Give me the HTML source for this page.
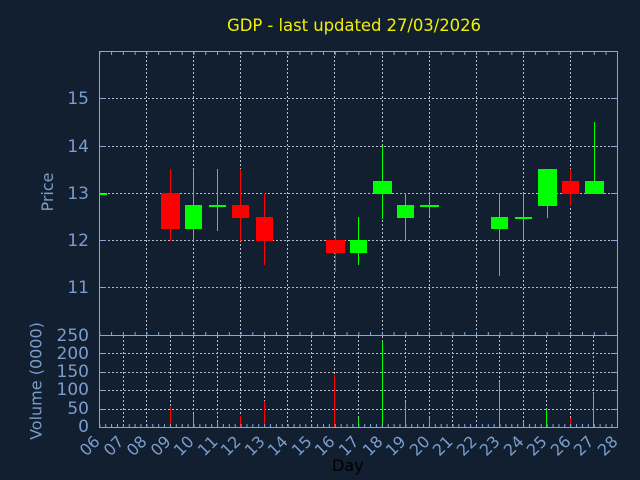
<!DOCTYPE html>
<html>
<head>
<meta charset="utf-8">
<style>
html,body{margin:0;padding:0;background:#111f30;}
svg{display:block;}
text{font-family:"DejaVu Sans","Liberation Sans",sans-serif;}
</style>
</head>
<body>
<svg width="640" height="480" viewBox="0 0 640 480" xmlns="http://www.w3.org/2000/svg">
<rect x="0" y="0" width="640" height="480" fill="#111f30"/>

<!-- title -->
<text x="227" y="31" font-size="16.5" fill="#f0f000" textLength="254" lengthAdjust="spacing">GDP - last updated 27/03/2026</text>

<!-- gridlines -->
<g stroke="#b8bcc4" stroke-width="1" stroke-dasharray="2 2" shape-rendering="crispEdges" fill="none">
  <path d="M100 98.5H617M100 146.5H617M100 193.5H617M100 240.5H617M100 287.5H617"/>
  <path d="M146.5 52V335M193.5 52V335M240.5 52V335M287.5 52V335M334.5 52V335M382.5 52V335M429.5 52V335M476.5 52V335M523.5 52V335M570.5 52V335"/>
  <path d="M100 353.5H617M100 372.5H617M100 390.5H617M100 409.5H617"/>
  <path d="M123.5 336V427M146.5 336V427M170.5 336V427M193.5 336V427M217.5 336V427M240.5 336V427M264.5 336V427M287.5 336V427M311.5 336V427M334.5 336V427M358.5 336V427M382.5 336V427M405.5 336V427M429.5 336V427M452.5 336V427M476.5 336V427M499.5 336V427M523.5 336V427M546.5 336V427M570.5 336V427M593.5 336V427"/>
</g>

<!-- candles -->
<g shape-rendering="crispEdges">
  <rect x="99" y="193" width="8" height="2" fill="#00ff00"/>
  <rect x="170" y="169" width="1" height="72" fill="#ff0000"/>
  <rect x="161" y="193" width="19" height="36" fill="#ff0000"/>
  <rect x="193" y="169" width="1" height="72" fill="#00ff00"/>
  <rect x="185" y="205" width="17" height="24" fill="#00ff00"/>
  <rect x="217" y="169" width="1" height="62" fill="#00ff00"/>
  <rect x="209" y="205" width="17" height="2" fill="#00ff00"/>
  <rect x="240" y="169" width="1" height="72" fill="#ff0000"/>
  <rect x="232" y="205" width="17" height="13" fill="#ff0000"/>
  <rect x="264" y="193" width="1" height="72" fill="#ff0000"/>
  <rect x="256" y="217" width="17" height="24" fill="#ff0000"/>
  <rect x="335" y="217" width="1" height="55" fill="#ff0000"/>
  <rect x="326" y="240" width="19" height="13" fill="#ff0000"/>
  <rect x="358" y="217" width="1" height="48" fill="#00ff00"/>
  <rect x="350" y="240" width="17" height="13" fill="#00ff00"/>
  <rect x="382" y="146" width="1" height="73" fill="#00ff00"/>
  <rect x="373" y="181" width="19" height="13" fill="#00ff00"/>
  <rect x="405" y="193" width="1" height="48" fill="#00ff00"/>
  <rect x="397" y="205" width="17" height="13" fill="#00ff00"/>
  <rect x="429" y="193" width="1" height="23" fill="#00ff00"/>
  <rect x="420" y="205" width="19" height="2" fill="#00ff00"/>
  <rect x="499" y="193" width="1" height="83" fill="#00ff00"/>
  <rect x="491" y="217" width="17" height="12" fill="#00ff00"/>
  <rect x="523" y="193" width="1" height="48" fill="#00ff00"/>
  <rect x="515" y="217" width="17" height="2" fill="#00ff00"/>
  <rect x="547" y="169" width="1" height="49" fill="#00ff00"/>
  <rect x="538" y="169" width="19" height="37" fill="#00ff00"/>
  <rect x="570" y="169" width="1" height="37" fill="#ff0000"/>
  <rect x="562" y="181" width="17" height="13" fill="#ff0000"/>
  <rect x="594" y="122" width="1" height="72" fill="#00ff00"/>
  <rect x="585" y="181" width="19" height="13" fill="#00ff00"/>
</g>

<!-- volume bars -->
<g shape-rendering="crispEdges">
  <rect x="170" y="407" width="1" height="20" fill="#ff0000"/>
  <rect x="193" y="414" width="1" height="13" fill="#00ff00"/>
  <rect x="217" y="422" width="1" height="5" fill="#00ff00"/>
  <rect x="240" y="416" width="1" height="11" fill="#ff0000"/>
  <rect x="264" y="401" width="1" height="26" fill="#ff0000"/>
  <rect x="334" y="375" width="1" height="52" fill="#ff0000"/>
  <rect x="358" y="418" width="1" height="9" fill="#00ff00"/>
  <rect x="382" y="341" width="1" height="86" fill="#00ff00"/>
  <rect x="405" y="402" width="1" height="25" fill="#00ff00"/>
  <rect x="429" y="418" width="1" height="9" fill="#00ff00"/>
  <rect x="499" y="382" width="1" height="45" fill="#00ff00"/>
  <rect x="523" y="422" width="1" height="5" fill="#00ff00"/>
  <rect x="546" y="409" width="1" height="18" fill="#00ff00"/>
  <rect x="570" y="418" width="1" height="9" fill="#ff0000"/>
  <rect x="593" y="393" width="1" height="34" fill="#00ff00"/>
</g>

<!-- axes / borders -->
<g stroke="#86a8d6" stroke-width="1" fill="none" shape-rendering="crispEdges">
  <path d="M99.5 51.5H617.5V427.5H99.5Z"/>
  <path d="M99.5 335.5H617.5"/>
  <path d="M100 98.5h6M100 146.5h6M100 193.5h6M100 240.5h6M100 287.5h6"/>
  <path d="M611 98.5h6M611 146.5h6M611 193.5h6M611 240.5h6M611 287.5h6"/>
  <path d="M100 353.5h6M100 372.5h6M100 390.5h6M100 409.5h6"/>
  <path d="M611 353.5h6M611 372.5h6M611 390.5h6M611 409.5h6"/>
</g>
<g stroke="#86a8d6" fill="none">
  <line x1="99" y1="53.5" x2="617" y2="53.5" stroke-width="3" stroke-dasharray="1 10.7727" stroke-dashoffset="-0.3"/>
  <line x1="99" y1="333.5" x2="617" y2="333.5" stroke-width="3" stroke-dasharray="1 10.7727" stroke-dashoffset="-0.3"/>
  <line x1="99" y1="425.5" x2="617" y2="425.5" stroke-width="3" stroke-dasharray="1 4.886" stroke-dashoffset="-0.3"/>
</g>

<!-- price tick labels -->
<g font-size="17" fill="#7b9dcb" text-anchor="end">
  <text x="89" y="104">15</text>
  <text x="89" y="152">14</text>
  <text x="89" y="199">13</text>
  <text x="89" y="246">12</text>
  <text x="89" y="293">11</text>
</g>
<!-- volume tick labels -->
<g font-size="17" fill="#7b9dcb" text-anchor="end">
  <text x="89" y="341">250</text>
  <text x="89" y="359">200</text>
  <text x="89" y="377">150</text>
  <text x="89" y="395">100</text>
  <text x="89" y="414">50</text>
  <text x="89" y="432">0</text>
</g>

<!-- axis titles -->
<text transform="translate(53,192) rotate(-90)" font-size="16" fill="#7b9dcb" text-anchor="middle">Price</text>
<text transform="translate(41.5,381) rotate(-90)" font-size="16" fill="#7b9dcb" text-anchor="middle">Volume (0000)</text>
<text x="332" y="471" font-size="16" fill="#000000">Day</text>

<!-- x tick labels -->
<g font-size="16" fill="#7b9dcb" text-anchor="end">
  <text transform="translate(100.8,442.5) rotate(-45)">06</text>
  <text transform="translate(124.8,442.5) rotate(-45)">07</text>
  <text transform="translate(147.8,442.5) rotate(-45)">08</text>
  <text transform="translate(171.8,442.5) rotate(-45)">09</text>
  <text transform="translate(194.8,442.5) rotate(-45)">10</text>
  <text transform="translate(218.8,442.5) rotate(-45)">11</text>
  <text transform="translate(241.8,442.5) rotate(-45)">12</text>
  <text transform="translate(265.8,442.5) rotate(-45)">13</text>
  <text transform="translate(288.8,442.5) rotate(-45)">14</text>
  <text transform="translate(312.8,442.5) rotate(-45)">15</text>
  <text transform="translate(335.8,442.5) rotate(-45)">16</text>
  <text transform="translate(359.8,442.5) rotate(-45)">17</text>
  <text transform="translate(383.8,442.5) rotate(-45)">18</text>
  <text transform="translate(406.8,442.5) rotate(-45)">19</text>
  <text transform="translate(430.8,442.5) rotate(-45)">20</text>
  <text transform="translate(453.8,442.5) rotate(-45)">21</text>
  <text transform="translate(477.8,442.5) rotate(-45)">22</text>
  <text transform="translate(500.8,442.5) rotate(-45)">23</text>
  <text transform="translate(524.8,442.5) rotate(-45)">24</text>
  <text transform="translate(547.8,442.5) rotate(-45)">25</text>
  <text transform="translate(571.8,442.5) rotate(-45)">26</text>
  <text transform="translate(594.8,442.5) rotate(-45)">27</text>
  <text transform="translate(618.8,442.5) rotate(-45)">28</text>
</g>
</svg>
</body>
</html>
